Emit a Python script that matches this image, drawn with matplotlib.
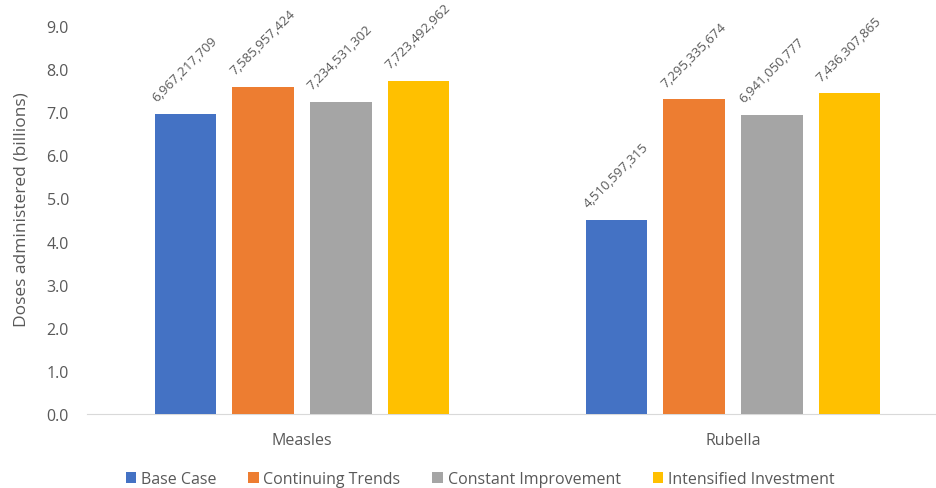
import matplotlib
matplotlib.use("Agg")
import matplotlib.pyplot as plt
import numpy as np

categories = ["Measles", "Rubella"]
series = ["Base Case", "Continuing Trends", "Constant Improvement", "Intensified Investment"]
colors = ["#4472C4", "#ED7D31", "#A5A5A5", "#FFC000"]
values = {
    "Base Case": [6967217709, 4510597315],
    "Continuing Trends": [7585957424, 7295335674],
    "Constant Improvement": [7234531302, 6941050777],
    "Intensified Investment": [7723492962, 7436307865],
}
yticks = [0, 1, 2, 3, 4, 5, 6, 7, 8, 9]

plt.rcParams['font.family'] = ['Open Sans', 'DejaVu Sans']
txt = "#595959"

W, H = 936, 489
left_px, right_px, top_px, bot_px = 87, 936, 27, 415
fig = plt.figure(figsize=(W/100, H/100), dpi=100)
ax = fig.add_axes([left_px/W, 1-bot_px/H, (right_px-left_px)/W, (bot_px-top_px)/H])

x = np.arange(len(categories))
step = 0.18
width = 0.143
for i, s in enumerate(series):
    off = (i - 1.5) * step
    vals = np.array(values[s]) / 1e9
    ax.bar(x + off, vals, width, color=colors[i], label=s, zorder=3)
    for xi, v, raw in zip(x + off, vals, values[s]):
        ax.text(xi - 0.066, v + 0.28, f"{raw:,}", rotation=45, rotation_mode='anchor',
                ha='left', va='baseline', fontsize=9.5, color=txt)

c0, spacing = 302, 431
ax.set_xlim((left_px-c0)/spacing, (right_px-c0)/spacing)
ax.set_ylim(0, 9)
ax.set_yticks(yticks)
ax.set_yticklabels([f"{t:.1f}" for t in yticks])
ax.set_xticks(x)
ax.set_xticklabels(categories)
for sp in ["top", "right", "left"]:
    ax.spines[sp].set_visible(False)
ax.spines["bottom"].set_color("#D9D9D9")
ax.tick_params(axis='both', length=0, colors=txt, labelsize=11.5)
ax.tick_params(axis='x', pad=13)
ax.tick_params(axis='y', pad=13)
ax.set_ylabel("Doses administered (billions)", color=txt, fontsize=12.5)
ax.yaxis.label.set_va('center')
ax.yaxis.set_label_coords((22-left_px)/(right_px-left_px), (bot_px-210)/(bot_px-top_px))

leg = fig.legend(loc='center', bbox_to_anchor=(480/W, 1-480/H), ncol=4, frameon=False,
                 fontsize=11.5, handlelength=0.65, handleheight=0.65, handletextpad=0.3,
                 columnspacing=2.0)
for t in leg.get_texts():
    t.set_color(txt)

fig.savefig("out.png", dpi=100)
